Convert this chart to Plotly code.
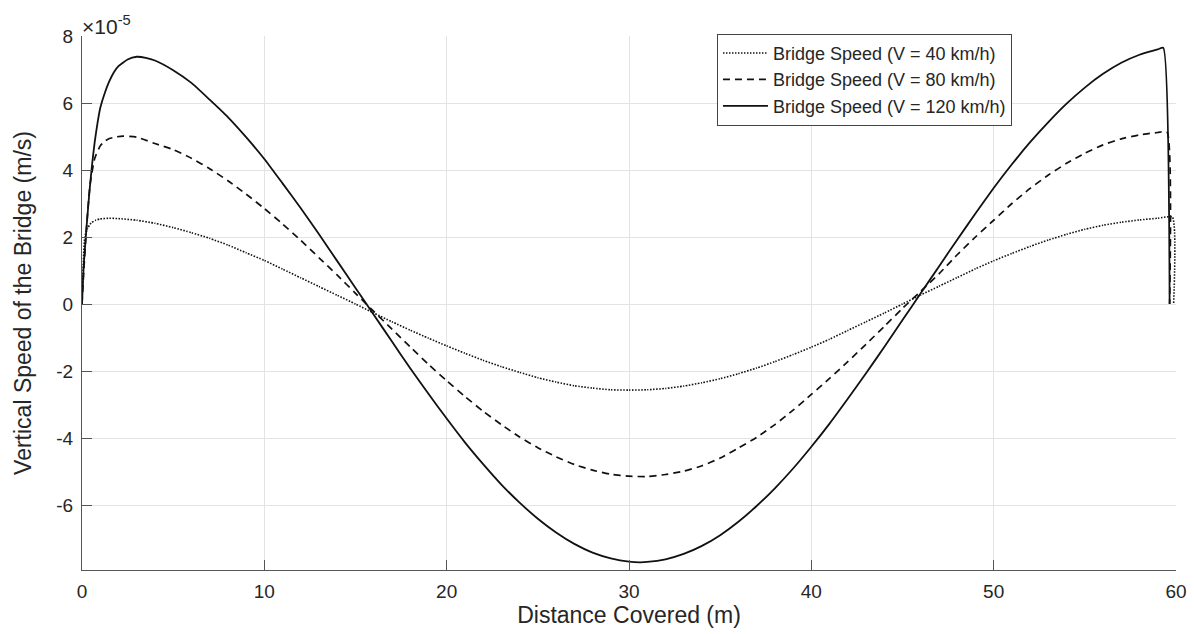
import plotly.graph_objects as go

# Values in units of 1e-5 m/s (axis shows the x10^-5 multiplier)
x_40 = [0, 0.05, 0.15, 0.3, 0.5, 0.75, 1, 1.5, 2, 3, 4, 5, 6, 7, 8, 9, 10, 11, 12, 13, 14, 15,
        16, 17, 18, 19, 20, 21, 22, 23, 24, 25, 26, 27, 28, 29, 30, 31, 32, 33, 34, 35, 36, 37,
        38, 39, 40, 41, 42, 43, 44, 45, 46, 47, 48, 49, 50, 51, 52, 53, 54, 55, 56, 57, 58, 59,
        59.8, 59.87]
y_40 = [0, 0.9, 2.0, 2.25, 2.42, 2.5, 2.54, 2.56, 2.55, 2.5, 2.41, 2.28, 2.13, 1.96, 1.76, 1.53,
        1.3, 1.04, 0.78, 0.52, 0.26, 0.0, -0.27, -0.53, -0.78, -1.02, -1.25, -1.47, -1.68, -1.87,
        -2.04, -2.2, -2.33, -2.44, -2.51, -2.56, -2.57, -2.56, -2.52, -2.45, -2.35, -2.23, -2.08,
        -1.91, -1.72, -1.51, -1.29, -1.05, -0.79, -0.53, -0.27, 0.0, 0.27, 0.53, 0.79, 1.05, 1.29,
        1.51, 1.72, 1.91, 2.08, 2.23, 2.35, 2.44, 2.51, 2.56, 2.59, 0]

x_80 = [0, 0.1, 0.25, 0.45, 0.7, 1, 1.25, 1.5, 1.9, 2.25, 3, 4, 5, 6, 7, 8, 9, 10, 11, 12, 13,
        14, 15, 16, 17, 18, 19, 20, 21, 22, 23, 24, 25, 26, 27, 28, 29, 30, 31, 32, 33, 34, 35,
        36, 37, 38, 39, 40, 41, 42, 43, 44, 45, 46, 47, 48, 49, 50, 51, 52, 53, 54, 55, 56, 57,
        58, 59, 59.5, 59.65]
y_80 = [0, 1.0, 2.3, 3.6, 4.35, 4.72, 4.86, 4.94, 4.99, 5.01, 4.98, 4.79, 4.61, 4.35, 4.04, 3.68,
        3.28, 2.85, 2.39, 1.9, 1.38, 0.86, 0.32, -0.22, -0.75, -1.28, -1.8, -2.29, -2.76, -3.2,
        -3.6, -3.97, -4.29, -4.56, -4.79, -4.96, -5.08, -5.14, -5.15, -5.09, -4.99, -4.83, -4.6,
        -4.3, -3.98, -3.6, -3.17, -2.7, -2.22, -1.72, -1.2, -0.67, -0.13, 0.38, 0.9, 1.47, 2.0,
        2.5, 3.0, 3.45, 3.85, 4.2, 4.5, 4.75, 4.93, 5.05, 5.12, 5.14, 0]

x_120 = [0, 0.1, 0.25, 0.4, 0.55, 0.7, 0.85, 1, 1.25, 1.5, 1.75, 2, 2.5, 3, 3.5, 4, 5, 6, 7, 8,
         9, 10, 11, 12, 13, 14, 15, 16, 17, 18, 19, 20, 21, 22, 23, 24, 25, 26, 27, 28, 29, 30,
         30.6, 31, 32, 33, 34, 35, 36, 37, 38, 39, 40, 41, 42, 43, 44, 45, 46, 47, 48, 49, 50, 51,
         52, 53, 54, 55, 56, 57, 58, 59, 59.3, 59.65]
y_120 = [0, 1.2, 2.3, 3.3, 4.15, 4.85, 5.4, 5.85, 6.3, 6.65, 6.92, 7.1, 7.3, 7.38, 7.35, 7.27,
         6.98, 6.6, 6.1, 5.58, 4.98, 4.33, 3.6, 2.86, 2.08, 1.28, 0.48, -0.32, -1.12, -1.92, -2.68,
         -3.42, -4.13, -4.78, -5.39, -5.93, -6.41, -6.82, -7.16, -7.42, -7.59, -7.69, -7.71, -7.7,
         -7.62, -7.46, -7.22, -6.9, -6.5, -6.03, -5.5, -4.91, -4.26, -3.57, -2.83, -2.07, -1.28,
         -0.48, 0.32, 1.12, 1.92, 2.7, 3.46, 4.17, 4.83, 5.43, 5.98, 6.46, 6.87, 7.2, 7.44, 7.6,
         7.65, 0]

names = ["Bridge Speed (V = 40 km/h)", "Bridge Speed (V = 80 km/h)", "Bridge Speed (V = 120 km/h)"]
x_ticks = [0, 10, 20, 30, 40, 50, 60]
y_ticks = [-6, -4, -2, 0, 2, 4, 6, 8]
y_tick_text = ["-6", "-4", "-2", "0", "2", "4", "6", "8"]

FONT = "Liberation Sans, Arial, Helvetica, sans-serif"
TXT = "#262626"

fig = go.Figure()
fig.add_trace(go.Scatter(x=x_40, y=y_40, mode="lines", name=names[0],
                         line=dict(color="#111", width=1.6, dash="1.5px,1.5px", shape="spline", smoothing=0.5)))
fig.add_trace(go.Scatter(x=x_80, y=y_80, mode="lines", name=names[1],
                         line=dict(color="#111", width=1.7, dash="7px,5px", shape="spline", smoothing=0.5)))
fig.add_trace(go.Scatter(x=x_120, y=y_120, mode="lines", name=names[2],
                         line=dict(color="#111", width=1.8, shape="spline", smoothing=0.5)))

axis_common = dict(
    showgrid=True, gridcolor="#e3e3e3", gridwidth=1, zeroline=False,
    showline=True, linecolor="#555", linewidth=1, automargin=False,
    ticks="inside", ticklen=10, tickcolor="#555", tickwidth=1,
    tickfont=dict(family=FONT, size=19, color=TXT),
)

fig.update_layout(
    width=1195, height=634,
    margin=dict(l=82, r=19, t=36, b=64),
    paper_bgcolor="white", plot_bgcolor="white",
    font=dict(family=FONT, color=TXT),
    xaxis=dict(axis_common, range=[0, 60], tickvals=x_ticks, ticklabelstandoff=4,
               title=dict(text="Distance Covered (m)", font=dict(family=FONT, size=23, color=TXT), standoff=6)),
    yaxis=dict(axis_common, range=[-7.94, 8], tickvals=y_ticks, ticktext=y_tick_text, ticklabelstandoff=4,
               title=dict(text="Vertical Speed of the Bridge (m/s)", font=dict(family=FONT, size=23, color=TXT), standoff=18)),
    legend=dict(x=0.5804, y=1.004, xanchor="left", yanchor="top", bgcolor="white",
                bordercolor="#444", borderwidth=1, font=dict(family=FONT, size=18, color=TXT),
                itemwidth=45, tracegroupgap=0),
    showlegend=True,
)

fig.add_annotation(x=0, y=1, xref="paper", yref="paper", xanchor="left", yanchor="bottom",
                   text="×10<sup>-5</sup>", showarrow=False, yshift=-4, xshift=-2,
                   font=dict(family=FONT, size=21, color=TXT))

fig.write_html("out.html")
